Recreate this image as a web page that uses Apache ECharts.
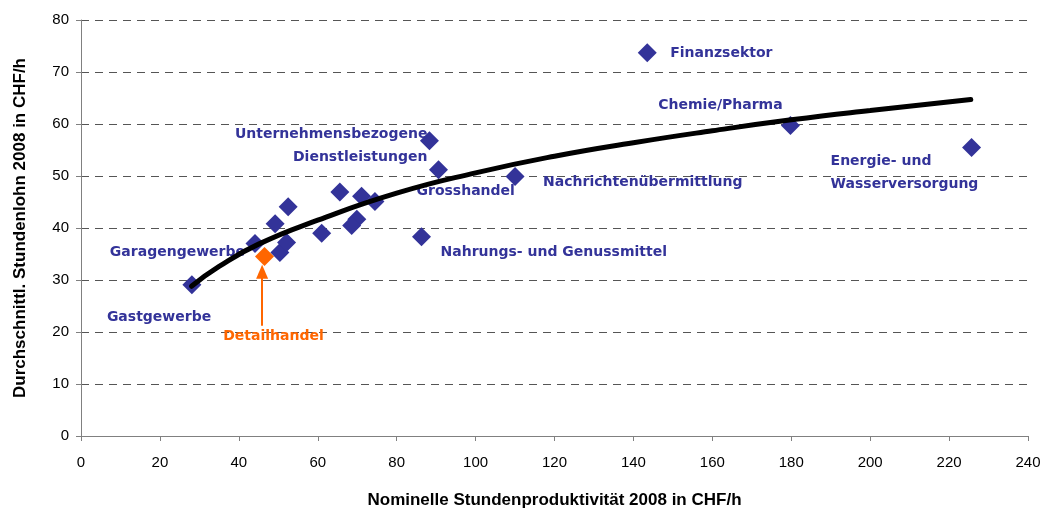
<!DOCTYPE html>
<html>
<head>
<meta charset="utf-8">
<script src="https://cdn.jsdelivr.net/npm/echarts@6/dist/echarts.min.js"></script>
<style>
  html, body { margin: 0; padding: 0; background: #fff; }
  #chart { width: 1046px; height: 510px; }
</style>
</head>
<body>
<div id="chart"></div>
<script>
  // Branchen: Produktivität (x) und Stundenlohn (y), 2008, CHF/h
  const sectorNames = [
    'Gastgewerbe', 'Garagengewerbe', '', '', '', '', '', '', '', '', '', '',
    'Nahrungs- und Genussmittel', 'Unternehmensbezogene\nDienstleistungen', 'Grosshandel',
    'Nachrichtenübermittlung', 'Finanzsektor', 'Chemie/Pharma', 'Energie- und\nWasserversorgung'
  ];
  const productivity = [28.1, 44.1, 49.2, 52.5, 50.4, 52.1, 61.0, 65.6, 71.1, 74.5, 69.9, 68.6,
    86.3, 88.3, 90.6, 110.0, 143.5, 179.8, 225.7];
  const wage = [29.1, 37.0, 40.8, 44.1, 35.3, 37.2, 39.0, 46.9, 46.1, 45.1, 41.7, 40.5,
    38.3, 56.8, 51.2, 49.9, 73.7, 59.7, 55.5];

  const retailName = 'Detailhandel';
  const retailPoint = [46.5, 34.5];
  const retailArrow = [[45.9, 21.2], [45.9, 31.6]];

  // Trendkurve
  const trendX = [28, 35, 45, 60, 80, 100, 120, 140, 160, 180, 200, 225.5];
  const trendY = [28.8, 32.6, 36.9, 41.5, 46.7, 50.6, 53.8, 56.4, 58.7, 60.8, 62.6, 64.7];

  const xTicks = { min: 0, max: 240, interval: 20 };
  const yTicks = { min: 0, max: 80, interval: 10 };

  const BLUE = '#333399', ORANGE = '#ff6600';
  const labelFont = 'DejaVu Sans';

  // label placement [align, dx, dy]
  const labelPos = {
    'Gastgewerbe': ['left', -85, 33],
    'Garagengewerbe': ['right', -10, 9],
    'Nahrungs- und Genussmittel': ['left', 19, 16],
    'Unternehmensbezogene\nDienstleistungen': ['right', -2, 5],
    'Grosshandel': ['left', -22, 22],
    'Nachrichtenübermittlung': ['left', 28, 6],
    'Finanzsektor': ['left', 23, 1],
    'Chemie/Pharma': ['center', -70, -20],
    'Energie- und\nWasserversorgung': ['left', -141, 25]
  };

  const points = productivity.map((x, i) => {
    let name = sectorNames[i];
    let item = { name, value: [x, wage[i]] };
    if (labelPos[name]) {
      let p = labelPos[name];
      item.label = {
        show: true, position: 'inside', align: p[0], verticalAlign: 'middle',
        offset: [p[1], p[2]]
      };
    }
    return item;
  });

  let chart = echarts.init(document.getElementById('chart'));
  let option = {
    animation: false,
    textStyle: { fontFamily: 'Liberation Sans' },
    grid: { left: 81, right: 18, top: 20, bottom: 74, outerBoundsMode: 'none' },
    xAxis: {
      type: 'value', min: xTicks.min, max: xTicks.max, interval: xTicks.interval,
      name: 'Nominelle Stundenproduktivität 2008 in CHF/h',
      nameLocation: 'middle', nameGap: 56,
      nameTextStyle: { fontWeight: 'bold', fontSize: 17, color: '#000' },
      axisLine: { lineStyle: { color: '#808080' } },
      axisTick: { show: true, length: 5, lineStyle: { color: '#808080' } },
      axisLabel: { fontSize: 15, color: '#000', margin: 19 },
      splitLine: { show: false }
    },
    yAxis: {
      type: 'value', min: yTicks.min, max: yTicks.max, interval: yTicks.interval,
      name: 'Durchschnittl. Stundenlohn 2008 in CHF/h',
      nameLocation: 'middle', nameGap: 52,
      nameTextStyle: { fontWeight: 'bold', fontSize: 17, color: '#000' },
      axisLine: { show: true, lineStyle: { color: '#808080' } },
      axisTick: { show: true, length: 5, lineStyle: { color: '#808080' } },
      axisLabel: { fontSize: 15, color: '#000', margin: 12 },
      splitLine: { show: true, lineStyle: { color: '#555', type: [8, 6], width: 1 } }
    },
    series: [
      {
        type: 'scatter', symbol: 'diamond', symbolSize: 19, z: 2,
        itemStyle: { color: BLUE, opacity: 1 },
        label: {
          show: false, formatter: '{b}', color: BLUE, fontFamily: labelFont,
          fontWeight: 'bold', fontSize: 14, lineHeight: 23
        },
        data: points
      },
      {
        type: 'scatter', symbol: 'diamond', symbolSize: 19, z: 3,
        itemStyle: { color: ORANGE, opacity: 1 },
        label: {
          show: true, formatter: '{b}', color: ORANGE, fontFamily: labelFont,
          fontWeight: 'bold', fontSize: 14, position: 'inside', align: 'center',
          verticalAlign: 'middle', offset: [9, 80]
        },
        data: [{ name: retailName, value: retailPoint }],
        markLine: {
          silent: true, symbol: ['none', 'triangle'], symbolSize: [12, 14],
          lineStyle: { color: ORANGE, width: 2, type: 'solid' },
          label: { show: false },
          data: [[{ coord: retailArrow[0] }, { coord: retailArrow[1] }]]
        }
      },
      {
        type: 'line', smooth: true, showSymbol: false, z: 4,
        lineStyle: { color: '#000', width: 5, cap: 'round' },
        data: trendX.map((x, i) => [x, trendY[i]])
      }
    ]
  };
  chart.setOption(option);
</script>
</body>
</html>
